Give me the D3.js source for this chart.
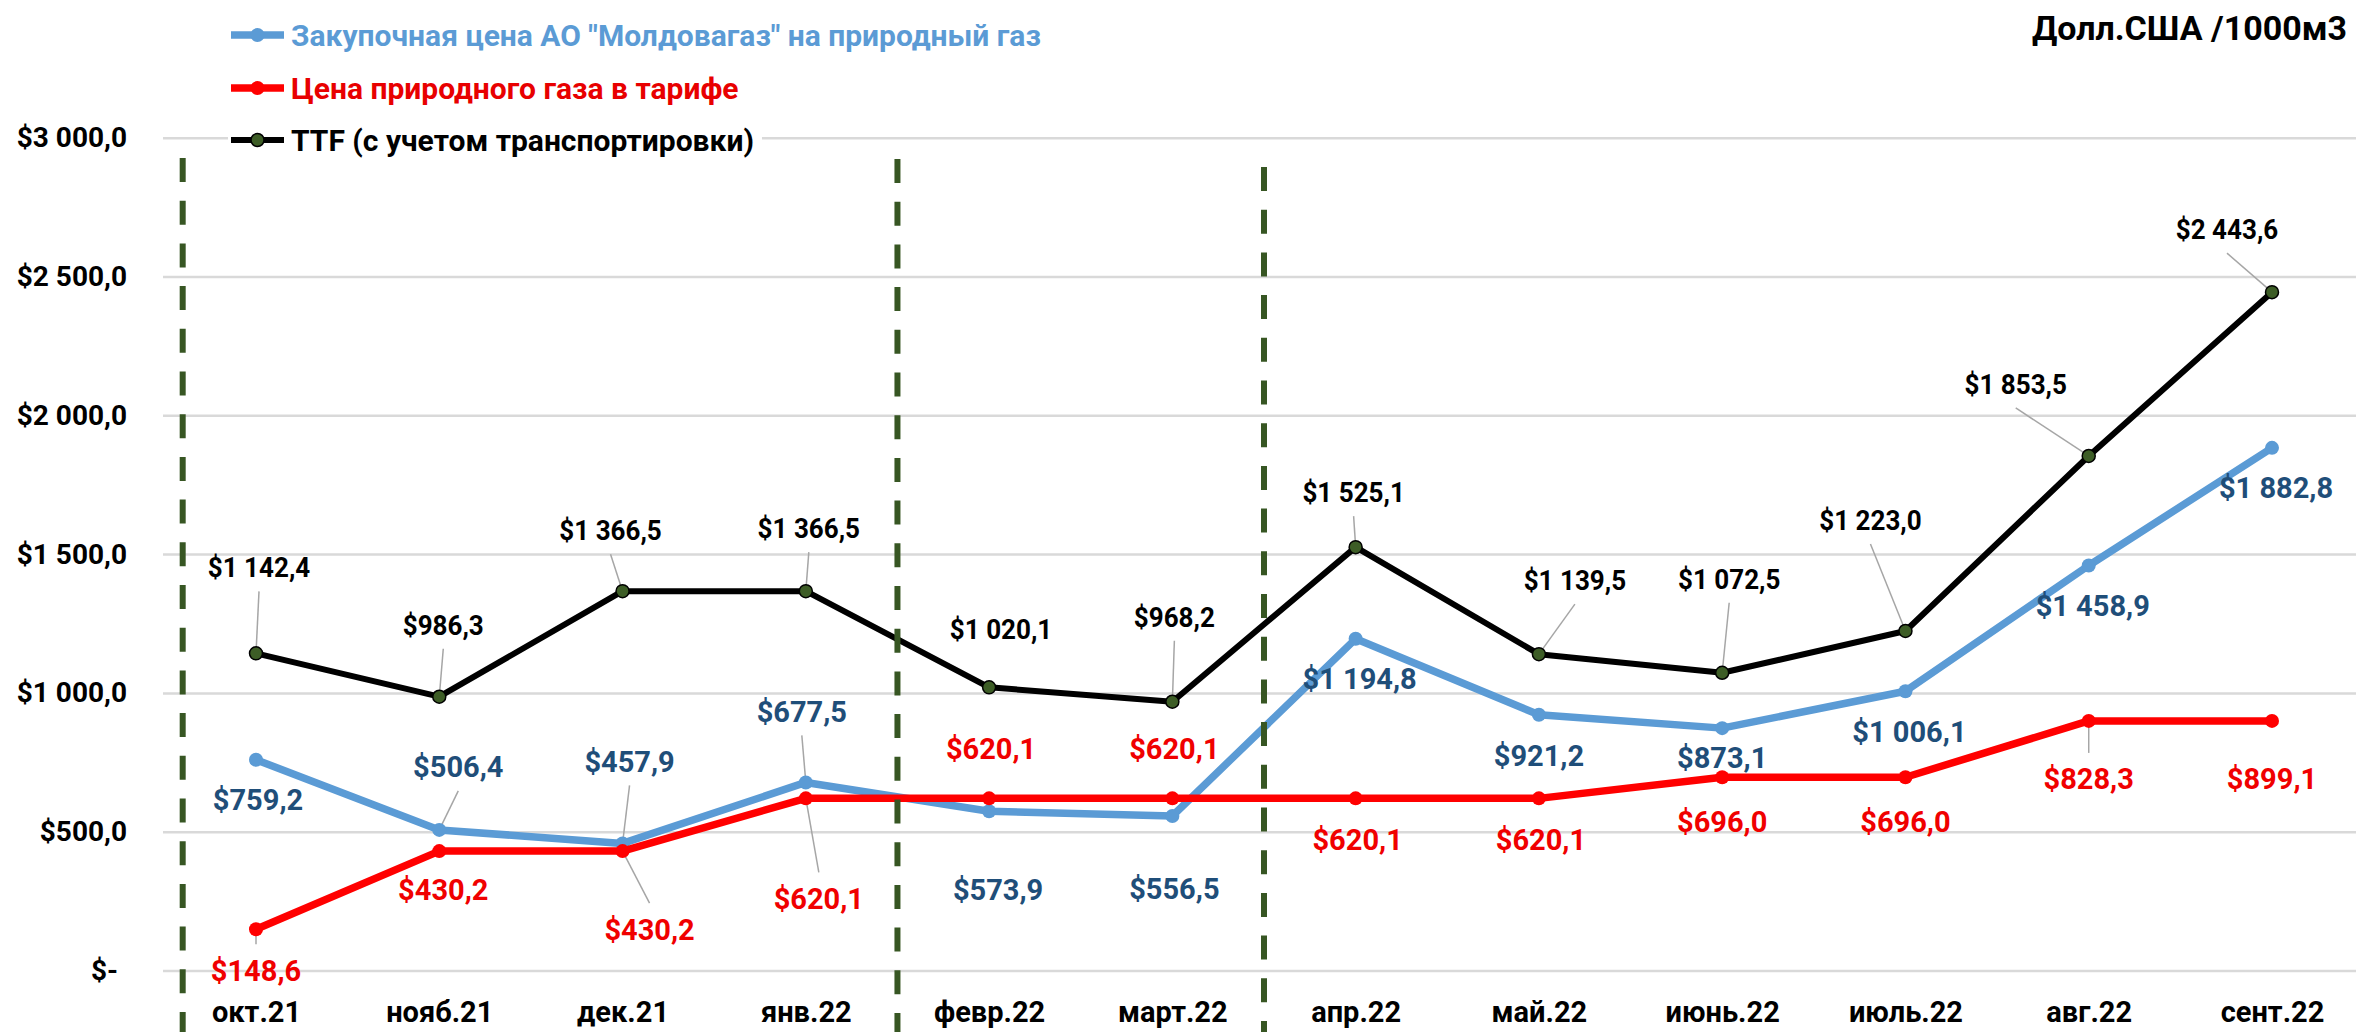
<!DOCTYPE html>
<html><head><meta charset="utf-8">
<script src="https://cdn.jsdelivr.net/npm/d3@7"></script>
<style>
html,body{margin:0;padding:0;background:#fff;}
svg{display:block;}
text{font-family:Roboto,"Noto Sans",sans-serif;font-weight:bold;}
</style></head><body>
<svg id="chart" width="2356" height="1032"></svg>
<script>
// ---------- data ----------
const months = ["окт.21","нояб.21","дек.21","янв.22","февр.22","март.22","апр.22","май.22","июнь.22","июль.22","авг.22","сент.22"];
const purchasePrice = [759.2,506.4,457.9,677.5,573.9,556.5,1194.8,921.2,873.1,1006.1,1458.9,1882.8];
const tariffPrice   = [148.6,430.2,430.2,620.1,620.1,620.1,620.1,620.1,696.0,696.0,899.1,899.1];
const tariffLabelValues = [148.6,430.2,430.2,620.1,620.1,620.1,620.1,620.1,696.0,696.0,828.3,899.1];
const ttfPrice      = [1142.4,986.3,1366.5,1366.5,1020.1,968.2,1525.1,1139.5,1072.5,1223.0,1853.5,2443.6];
const yTicks = [0,500,1000,1500,2000,2500,3000];
const seriesNames = ["Закупочная цена АО \"Молдовагаз\" на природный газ","Цена природного газа в тарифе","TTF (с учетом транспортировки)"];
const unitTitle = "Долл.США /1000м3";

// ---------- layout (label offsets in px relative to point: dx, dy, leader) ----------
const ttfLabelPos = [[3,-86,1],[4,-72,1],[-12,-61,1],[3,-63,1],[12,-58,0],[2,-85,1],[-2,-55,1],[36,-74,1],[7,-94,1],[-35,-111,1],[-73,-72,1],[-45,-63,1]];
const purchaseLabelPos = [[2,40,0],[19,-63,1],[7,-82,1],[-4,-71,1],[9,78,0],[2,73,0],[4,40,0],[0,41,0],[0,29,0],[4,40,0],[4,40,0],[4,40,0]];
const tariffLabelPos = [[0,41,1],[4,38,0],[27,78,1],[13,100,1],[2,-50,0],[2,-50,0],[2,41,0],[2,41,0],[0,44,0],[0,44,0],[0,58,1],[0,58,0]];
const dividerAt = [-0.4,3.5,5.5];
const dividerTop = [158,159,167];

const W = 2356, H = 1032;
const plotLeft = 163;
const svg = d3.select("#chart");

const x = d3.scalePoint().domain(months).range([256,2272]);
const y = d3.scaleLinear().domain([0,3000]).range([970.5,137.7]);
const step = x.step();
const xAt = v => x(months[0]) + v*step;

const locale = d3.formatLocale({decimal:",",thousands:"\u00a0",grouping:[3],currency:["$",""]});
const fmt = locale.format("$,.1f");

// y axis + gridlines
svg.append("g").attr("transform",`translate(${plotLeft},0)`)
  .call(d3.axisLeft(y).tickValues(yTicks).tickSize(-(W-plotLeft)).tickPadding(36)
        .tickFormat(d => d===0 ? "$-" : fmt(d)))
  .call(g => g.select(".domain").remove())
  .call(g => g.selectAll(".tick line").attr("stroke","#d9d9d9").attr("stroke-width",2.5))
  .call(g => g.selectAll(".tick text")
      .attr("font-family","'Open Sans',sans-serif").attr("font-weight","bold")
      .attr("font-size",28).attr("fill","#000")
      .attr("dx", d => d===0 ? -9 : 0));

// x axis labels
svg.append("g").attr("transform",`translate(0,${y(0)})`)
  .call(d3.axisBottom(x).tickSize(0).tickPadding(31))
  .call(g => g.select(".domain").remove())
  .call(g => g.selectAll(".tick text")
      .attr("font-family","Roboto,sans-serif").attr("font-weight","bold")
      .attr("font-size",29).attr("fill","#000"));

// leader lines
const leaderG = svg.append("g");
function leaders(values, pos){
  values.forEach((v,i) => {
    const p = pos[i];
    if(!p[2]) return;
    const px = x(months[i]), py = y(v);
    const lx = px + p[0], ly = py + p[1] + (p[1] < 0 ? 24 : -26);
    leaderG.append("line").attr("x1",lx).attr("y1",ly).attr("x2",px).attr("y2",py)
      .attr("stroke","#a6a6a6").attr("stroke-width",1.5);
  });
}
leaders(ttfPrice, ttfLabelPos);
leaders(purchasePrice, purchaseLabelPos);
leaders(tariffPrice, tariffLabelPos);

// series lines
const line = d3.line().x((d,i) => x(months[i])).y(d => y(d));
function series(values, color, width, r, fill, strokeC, strokeW){
  const g = svg.append("g");
  g.append("path").datum(values).attr("d",line).attr("fill","none")
    .attr("stroke",color).attr("stroke-width",width).attr("stroke-linejoin","round");
  g.selectAll("circle").data(values).join("circle")
    .attr("cx",(d,i)=>x(months[i])).attr("cy",d=>y(d)).attr("r",r)
    .attr("fill",fill).attr("stroke",strokeC).attr("stroke-width",strokeW);
}
series(purchasePrice,"#5b9bd5",7.5,7,"#5b9bd5","none",0);
series(tariffPrice,"#ff0000",7.5,7,"#ff0000","none",0);
series(ttfPrice,"#000000",6,6.5,"#3d5d26","#000",1.5);

// dividers
svg.append("g").selectAll("line").data(dividerAt).join("line")
  .attr("x1",d=>xAt(d)).attr("x2",d=>xAt(d))
  .attr("y1",(d,i)=>dividerTop[i]).attr("y2",H)
  .attr("stroke","#375623").attr("stroke-width",6).attr("stroke-dasharray","24 18.7");

// data labels
function labels(values, textValues, pos, color, size, sx){
  svg.append("g").selectAll("text").data(values).join("text")
    .attr("transform",(d,i)=>`translate(${x(months[i]) + pos[i][0]},${y(d) + pos[i][1]}) scale(${sx},1)`)
    .attr("dy","0.36em").attr("text-anchor","middle")
    .attr("font-size",size).attr("fill",color)
    .text((d,i)=>fmt(textValues[i]));
}
labels(ttfPrice, ttfPrice, ttfLabelPos, "#000", 28, 0.93);
labels(purchasePrice, purchasePrice, purchaseLabelPos, "#1f4e79", 29, 1);
labels(tariffPrice, tariffLabelValues, tariffLabelPos, "#f00000", 29, 1);

// legend
const legendColors = ["#5b9bd5","#ff0000","#000"];
const legendText = ["#5b9bd5","#e80000","#000"];
const legendRows = [35,88,140];
const lg = svg.append("g");
seriesNames.forEach((name,i) => {
  const g = lg.append("g").attr("transform",`translate(0,${legendRows[i]})`);
  const bg = g.append("rect").attr("x",228).attr("y",-20).attr("height",40).attr("fill","#fff");
  g.append("line").attr("x1",231).attr("x2",284).attr("y1",0).attr("y2",0)
    .attr("stroke",legendColors[i]).attr("stroke-width",i===2?6:7.5);
  g.append("circle").attr("cx",257.5).attr("cy",0).attr("r",i===2?6.5:7)
    .attr("fill",i===2?"#3d5d26":legendColors[i]).attr("stroke",i===2?"#000":"none").attr("stroke-width",1.5);
  const t = g.append("text").attr("x",291).attr("y",0).attr("dy","0.36em")
    .attr("font-size",30).attr("fill",legendText[i]).text(name);
  bg.attr("width", 291 - 228 + t.node().getComputedTextLength() + 8);
});

// unit title
svg.append("text").attr("x",2347).attr("y",28).attr("dy","0.36em")
  .attr("text-anchor","end").attr("font-family","'Open Sans',sans-serif")
  .attr("font-weight","bold").attr("font-size",34).attr("fill","#000").text(unitTitle);
</script>
</body></html>
